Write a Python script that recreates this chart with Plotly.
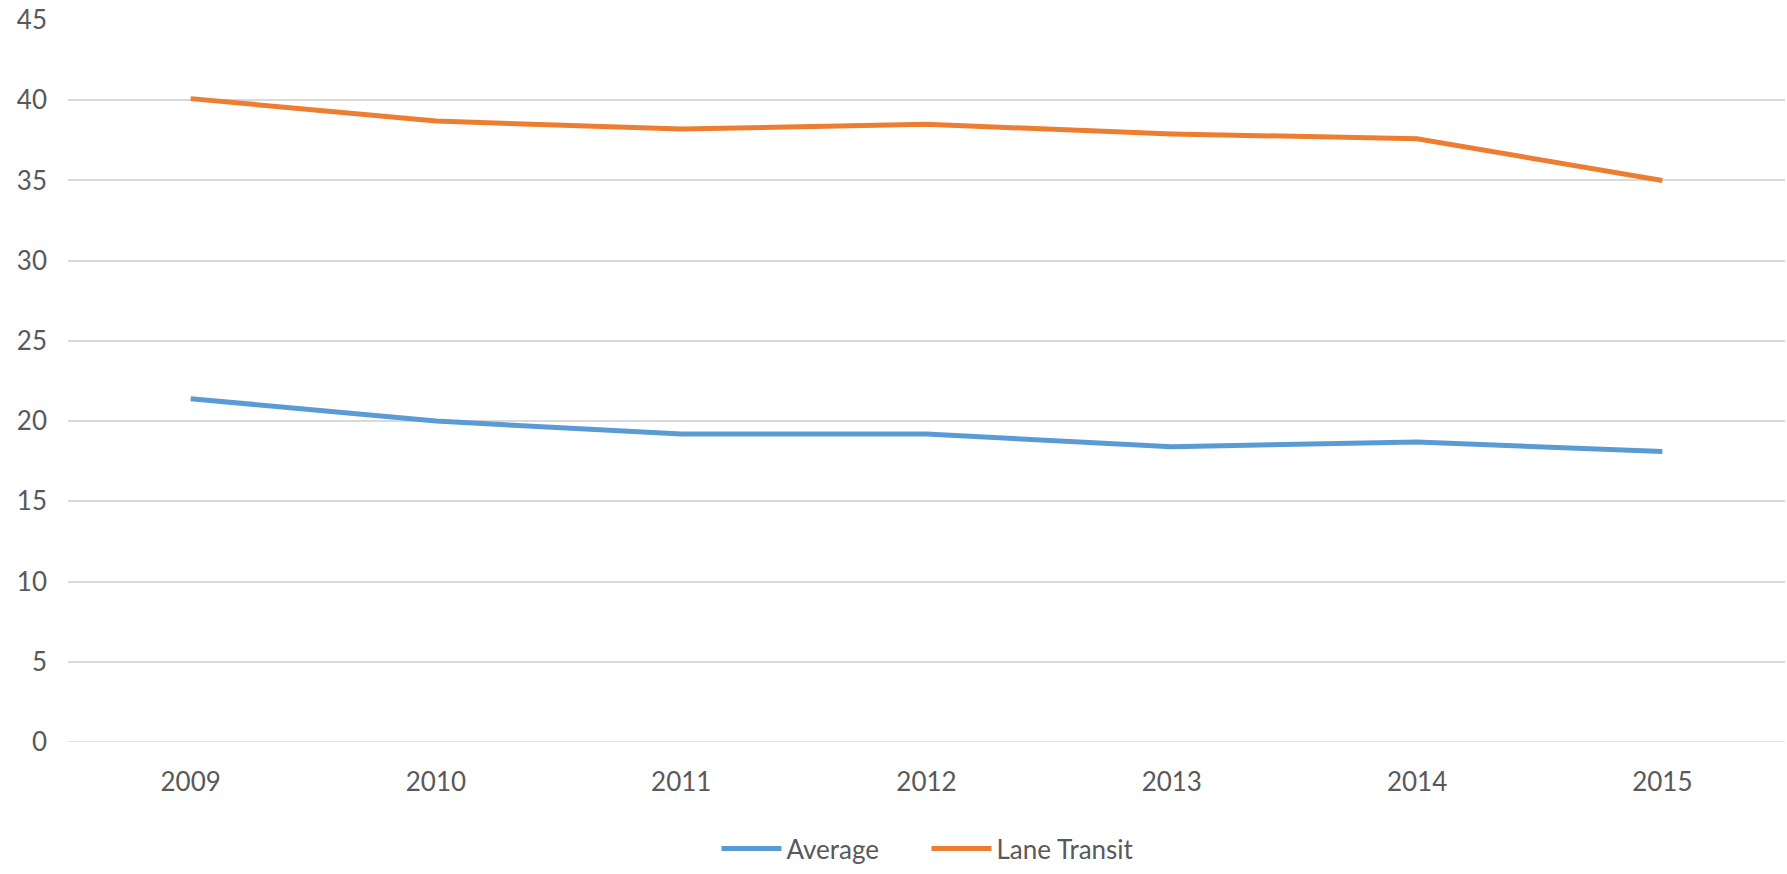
import plotly.graph_objects as go

years = ["2009", "2010", "2011", "2012", "2013", "2014", "2015"]
average = [21.4, 20.0, 19.2, 19.2, 18.4, 18.7, 18.1]
lane_transit = [40.1, 38.7, 38.2, 38.5, 37.9, 37.6, 35.0]
y_ticks = [0, 5, 10, 15, 20, 25, 30, 35, 40, 45]

fig = go.Figure()
fig.add_trace(go.Scatter(x=years, y=average, mode="lines", name="Average",
                         line=dict(color="#5B9BD5", width=5)))
fig.add_trace(go.Scatter(x=years, y=lane_transit, mode="lines", name="Lane Transit",
                         line=dict(color="#ED7D31", width=5)))

font_family = "Lato, 'Open Sans', sans-serif"
fig.update_layout(
    width=1787, height=874,
    margin=dict(l=68, r=2, t=20, b=128),
    paper_bgcolor="white", plot_bgcolor="white",
    font=dict(family=font_family, size=26, color="#595959"),
    showlegend=True,
    legend=dict(orientation="h", x=0.5, xanchor="center", y=-0.115, yanchor="top",
                font=dict(size=26, color="#595959"), itemwidth=60, entrywidth=135),
    xaxis=dict(type="category", range=[-0.5, 6.5], showgrid=False, showline=False,
               zeroline=False, ticks="", ticklabelstandoff=22,
               tickfont=dict(size=26, color="#595959")),
    yaxis=dict(range=[0, 45], tickvals=y_ticks, showgrid=True, gridcolor="#D9D9D9",
               gridwidth=1.5, zeroline=False, showline=False, ticks="",
               ticklabelstandoff=20, tickfont=dict(size=26, color="#595959")),
)
fig.add_shape(type="line", xref="paper", yref="y", x0=0, x1=1, y0=0, y1=0,
              line=dict(color="#D9D9D9", width=1.5), layer="below")

fig.write_html("out.html")
